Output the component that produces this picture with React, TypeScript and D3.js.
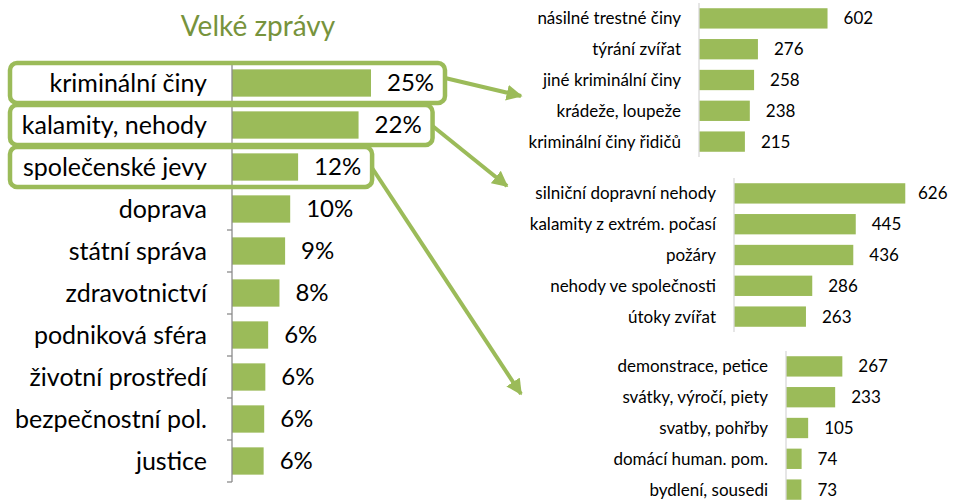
import React, { useEffect, useRef } from "react";
import * as d3 from "d3";

const mainCategories = [
  "kriminální činy",
  "kalamity, nehody",
  "společenské jevy",
  "doprava",
  "státní správa",
  "zdravotnictví",
  "podniková sféra",
  "životní prostředí",
  "bezpečnostní pol.",
  "justice",
];
const mainValues = [24.6, 22.4, 11.7, 10.3, 9.4, 8.4, 6.4, 5.9, 5.7, 5.6];

const crimeCategories = [
  "násilné trestné činy",
  "týrání zvířat",
  "jiné kriminální činy",
  "krádeže, loupeže",
  "kriminální činy řidičů",
];
const crimeValues = [602, 276, 258, 238, 215];

const accidentCategories = [
  "silniční dopravní nehody",
  "kalamity z extrém. počasí",
  "požáry",
  "nehody ve společnosti",
  "útoky zvířat",
];
const accidentValues = [626, 445, 436, 286, 263];

const socialCategories = [
  "demonstrace, petice",
  "svátky, výročí, piety",
  "svatby, pohřby",
  "domácí human. pom.",
  "bydlení, sousedi",
];
const socialValues = [267, 233, 105, 74, 73];

const GREEN = "#9bbb59";
const TITLE_GREEN = "#77933c";
const FONT = "Lato, 'Open Sans', sans-serif";

const App = () => {
  const svgRef = useRef<SVGSVGElement>(null);

  useEffect(() => {
    const svg = d3.select(svgRef.current);
    svg.selectAll("*").remove();

    // ---- main chart ----
    const yMain = d3.scaleBand().domain(mainCategories).range([62, 482]).paddingInner(0.35).paddingOuter(0.175);
    const xMain = d3.scaleLinear().domain([0, 30]).range([232, 232 + 30 * 5.65]);

    svg.append("text")
      .attr("x", 258).attr("y", 36)
      .attr("text-anchor", "middle")
      .style("font", `28px ${FONT}`)
      .attr("fill", TITLE_GREEN)
      .text("Velké zprávy");

    const main = svg.append("g");
    main.selectAll(".bar")
      .data(mainValues)
      .join("rect")
      .attr("class", "bar")
      .attr("x", xMain(0))
      .attr("y", (d, i) => yMain(mainCategories[i])!)
      .attr("width", (d) => xMain(d) - xMain(0))
      .attr("height", yMain.bandwidth())
      .attr("fill", GREEN);

    main.selectAll(".val")
      .data(mainValues)
      .join("text")
      .attr("class", "val")
      .attr("x", (d) => xMain(d) + 16)
      .attr("y", (d, i) => yMain(mainCategories[i])! + yMain.bandwidth() / 2)
      .attr("dy", "0.35em")
      .style("font", `24px ${FONT}`)
      .text((d) => Math.round(d) + "%");

    main.selectAll(".cat")
      .data(mainCategories)
      .join("text")
      .attr("class", "cat")
      .attr("x", 207)
      .attr("y", (d) => yMain(d)! + yMain.bandwidth() / 2)
      .attr("dy", "0.35em")
      .attr("text-anchor", "end")
      .style("font", `25px ${FONT}`)
      .text((d) => d);

    // axis with ticks between categories
    const step = yMain.step();
    const axisTop = 62;
    main.append("line")
      .attr("x1", xMain(0)).attr("x2", xMain(0))
      .attr("y1", axisTop).attr("y2", 482)
      .attr("stroke", "#8c8c8c").attr("stroke-width", 1.3);
    main.selectAll(".tick")
      .data(d3.range(mainCategories.length + 1))
      .join("line")
      .attr("class", "tick")
      .attr("x1", xMain(0) - 5).attr("x2", xMain(0))
      .attr("y1", (i) => axisTop + i * step)
      .attr("y2", (i) => axisTop + i * step)
      .attr("stroke", "#8c8c8c").attr("stroke-width", 1.3);

    // highlight boxes on the first three rows
    const boxes = [0, 1, 2].map((i) => {
      const top = yMain(mainCategories[i])! - (step - yMain.bandwidth()) / 2;
      return { x: 10, y: top + 1, w: xMain(mainValues[i]) + 74 - 10, h: step - 2 };
    });
    svg.selectAll(".box")
      .data(boxes)
      .join("rect")
      .attr("class", "box")
      .attr("x", (b) => b.x).attr("y", (b) => b.y)
      .attr("width", (b) => b.w).attr("height", (b) => b.h)
      .attr("rx", 7)
      .attr("fill", "none")
      .attr("stroke", GREEN)
      .attr("stroke-width", 4.5);

    // arrows
    svg.append("defs").append("marker")
      .attr("id", "head")
      .attr("markerUnits", "userSpaceOnUse")
      .attr("viewBox", "0 0 10 10")
      .attr("refX", 9).attr("refY", 5)
      .attr("markerWidth", 16).attr("markerHeight", 16)
      .attr("orient", "auto")
      .append("path")
      .attr("d", "M0,0 L10,5 L0,10 z")
      .attr("fill", GREEN);

    const arrows = [
      { x1: boxes[0].x + boxes[0].w, y1: 78, x2: 521, y2: 96 },
      { x1: boxes[1].x + boxes[1].w, y1: 126, x2: 507, y2: 186 },
      { x1: boxes[2].x + boxes[2].w, y1: 168, x2: 521, y2: 394 },
    ];
    svg.selectAll(".arrow")
      .data(arrows)
      .join("line")
      .attr("class", "arrow")
      .attr("x1", (a) => a.x1).attr("y1", (a) => a.y1)
      .attr("x2", (a) => a.x2).attr("y2", (a) => a.y2)
      .attr("stroke", GREEN)
      .attr("stroke-width", 4)
      .attr("marker-end", "url(#head)");

    // ---- small charts ----
    const small = [
      { cats: crimeCategories, vals: crimeValues, axisX: 699, labelX: 681, top: 3, max: 700, k: 0.2135 },
      { cats: accidentCategories, vals: accidentValues, axisX: 734, labelX: 716, top: 178, max: 700, k: 0.2736 },
      { cats: socialCategories, vals: socialValues, axisX: 786, labelX: 768, top: 351, max: 300, k: 0.211 },
    ];

    small.forEach((c) => {
      const g = svg.append("g");
      const y = d3.scaleBand().domain(c.cats).range([c.top, c.top + 154]).paddingInner(0.34).paddingOuter(0.17);
      const x = d3.scaleLinear().domain([0, c.max]).range([c.axisX, c.axisX + c.max * c.k]);

      g.selectAll("rect")
        .data(c.vals)
        .join("rect")
        .attr("x", x(0))
        .attr("y", (d, i) => y(c.cats[i])!)
        .attr("width", (d) => x(d) - x(0))
        .attr("height", y.bandwidth())
        .attr("fill", GREEN);

      g.append("line")
        .attr("x1", x(0)).attr("x2", x(0))
        .attr("y1", c.top).attr("y2", c.top + 154)
        .attr("stroke", "#d9d9d9").attr("stroke-width", 1.3);

      g.selectAll(".cat")
        .data(c.cats)
        .join("text")
        .attr("class", "cat")
        .attr("x", c.labelX)
        .attr("y", (d) => y(d)! + y.bandwidth() / 2)
        .attr("dy", "0.35em")
        .attr("text-anchor", "end")
        .style("font", `17px ${FONT}`)
        .text((d) => d);

      g.selectAll(".val")
        .data(c.vals)
        .join("text")
        .attr("class", "val")
        .attr("x", (d) => Math.min(x(d) + 16, 918))
        .attr("y", (d, i) => y(c.cats[i])! + y.bandwidth() / 2)
        .attr("dy", "0.35em")
        .style("font", `17px ${FONT}`)
        .text((d) => d);
    });
  }, []);

  return (
    <svg
      ref={svgRef}
      width={953}
      height={500}
      style={{ position: "absolute", left: 0, top: 0, background: "#fff" }}
    />
  );
};

export default App;
